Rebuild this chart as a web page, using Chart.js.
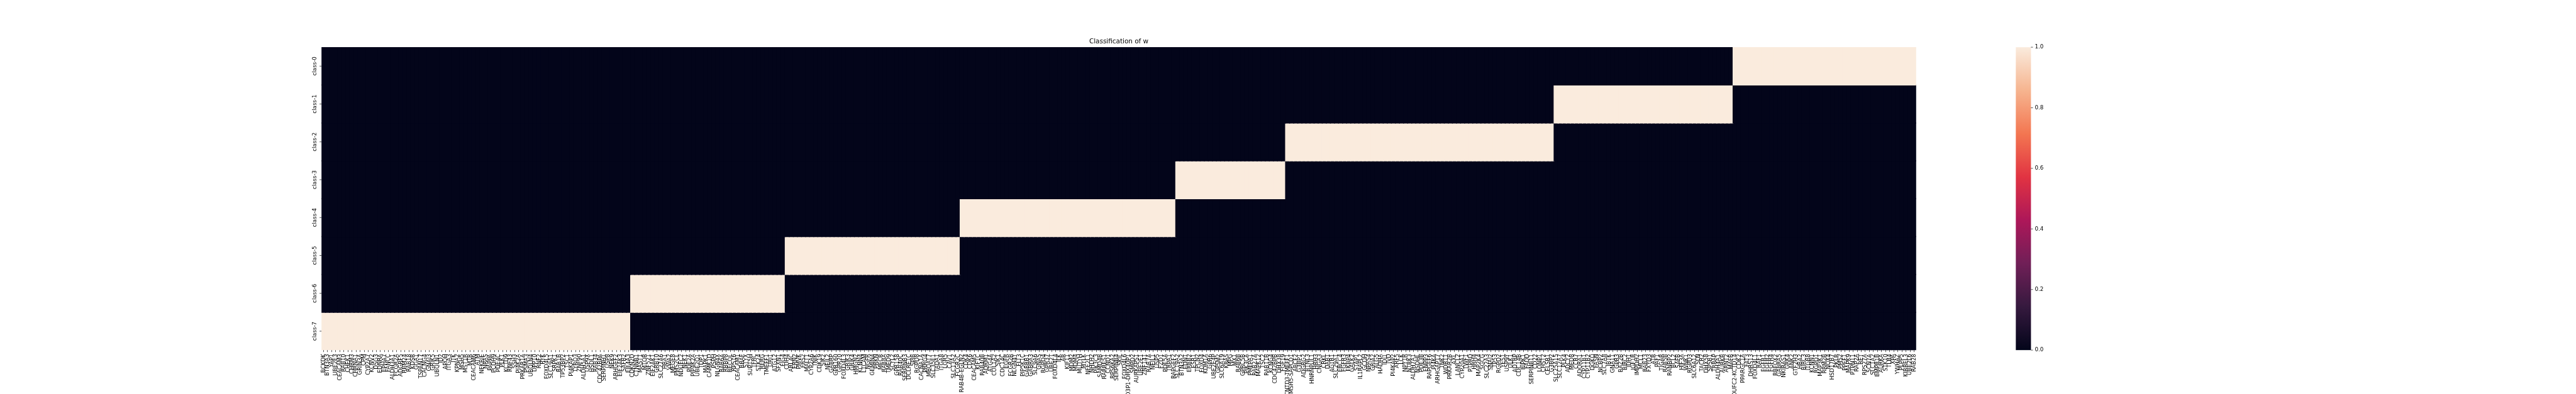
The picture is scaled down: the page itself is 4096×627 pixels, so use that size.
<!DOCTYPE html>
<html>
<head>
<meta charset="utf-8">
<title>Classification of w</title>
<script src="https://cdn.jsdelivr.net/npm/chart.js@4.4.0/dist/chart.umd.min.js"></script>
<style>
    body { margin: 0; background: #fff; }
    #wrap { width: 4096px; height: 627px; }
</style>
</head>
<body>
<div id="wrap"><canvas id="heatmap" width="4096" height="627"></canvas></div>
<script>
// Row labels, top to bottom
const classNames = ['class-0', 'class-1', 'class-2', 'class-3', 'class-4', 'class-5', 'class-6', 'class-7'];

// Genes of each class, in the order they appear along the x axis
const class7Genes = ['BCKDK', 'BTN3A3', 'YAP1', 'UBE2E3', 'CEACAM3', 'RAB10', 'CHEK1', 'CHRM3', 'CHRNA1', 'GRIN3A',
    'CPM', 'CYP2A7', 'KCNV2', 'DSG3', 'EDNRA', 'EPHA7', 'FANCC', 'ALDH3A1', 'FCGR2A', 'ADGRF5',
    'RBM24', 'RAB18', 'KDSR', 'GGA1', 'TSPAN17', 'CACNG4', 'GNAI3', 'GRIK5', 'UBQLN1', 'ID2',
    'APOH', 'ITGA3', 'ITK', 'KPNA2', 'MSH5', 'MST1R', 'MTR', 'CEACAM6', 'ATM', 'NFKBIE',
    'NRAS', 'PAPPA', 'PCDH9', 'PDE4C', 'PLK1', 'KCTD9', 'RNF43', 'SSH3', 'PI4K2A', 'PRKAR1A',
    'PSMA3', 'UBQLN4', 'DPP10', 'RNF2', 'RYK', 'FOXD4L5', 'SLC19A1', 'SRPK1', 'RAB1B', 'TP53BP2',
    'TSC1', 'PI4KAP1', 'TYRO3', 'ZNF90', 'ALDH5A1', 'USP9X', 'HSDL1', 'RAB34', 'CDC42BPA', 'SERPINH1',
    'USP8', 'NEK9', 'ARHGEF2', 'EIF2AK3', 'SAFB2', 'EIF4A3'];
const class6Genes = ['CDKN2D', 'CTNNB1', 'MAST1', 'MTOR', 'ZNF521', 'EIF2AK1', 'GRB10', 'SLC27A6', 'HBA1', 'VWA2',
    'MFGE8', 'PMS2CL', 'NDUFC2', 'NEK1', 'PDE2A', 'PIP4K2A', 'UBE2Q1', 'TDP1', 'MAPK1', 'CAMK1D',
    'PSPH', 'NLGN4X', 'RAB6A', 'RBBP8', 'RECQL', 'RPS16', 'CEACAM1', 'BRAF', 'STYX', 'SUPT5H',
    'TFRC', 'STK24', 'RERG', 'TMEFF1', 'URI1', 'ATG12', 'SFXN1', 'FIG4'];
const class5Genes = ['CDH4', 'ARL4C', 'ERN2', 'PMVK', 'FRS2', 'MALT1', 'CYP2A6', 'TNIK', 'CDK19', 'SIK2',
    'NEIL2', 'GABRP', 'GPR160', 'GPR20', 'FOXD4L3', 'GRIK3', 'GRIK4', 'HMGN2', 'KCNN4', 'L1CAM',
    'NGFR', 'GEMIN4', 'PRKN', 'MECR', 'RAB8A', 'TMED9', 'SCYL2', 'GPR158', 'RAB40C', 'SERPINB3',
    'DCLRE1C', 'SPIB', 'RGPD8', 'CACNA1A', 'PRRG4', 'MBOAT7', 'SLC35E1', 'TADA1', 'ITGA8', 'LGR5',
    'CAV1', 'SLC13A2', 'FCGR2C'];
const class4Genes = ['RAB4B-EGLN2', 'CDK4', 'CDK6', 'CEACAM5', 'KIF1C', 'RAB40B', 'ADRM1', 'ATG4A', 'COL1A2', 'SIK1',
    'CDC14C', 'EGFR', 'FCGR2B', 'NLGN4Y', 'FLT3', 'PIP5K1C', 'GABRB1', 'GABRA3', 'SLC9A6', 'GNAS',
    'RGPD4', 'GPR37', 'UBE2T', 'FOXD4L4', 'ILK', 'AR', 'KIF11', 'MDM2', 'MDM4', 'MUTYH',
    'MYLK', 'NFE2L1', 'NHLH2', 'PIK3C3', 'SAMD4B', 'RARRES1', 'CCND1', 'RPS6KA2', 'SERPINB4', 'SKIL',
    'FOXD4L6', 'TBC1D3P1-DHX40P1', 'SMPD2', 'AURKAPS1', 'UBE2E1', 'ZNF141', 'RAB7A', 'NEIL1', 'USP5', 'FZD1',
    'PDE5A', 'TRPA1', 'RAPGEF2'];
const class3Genes = ['SLC19A2', 'BTN3A2', 'EDN1', 'ERBB2', 'ESR1', 'TPCN2', 'FOXD4', 'KDM1A', 'GPR6', 'UBE2E4P',
    'GPSM2', 'SLC6A19', 'KRAS', 'MPG', 'MX1', 'RAB6B', 'GPRC5B', 'PIK3CA', 'PMEPA1', 'RAB27A',
    'MAPK12', 'TSC2', 'RAB11B', 'KCNG4', 'CDC42BPB', 'DHX38', 'FGF19'];
const class2Genes = ['CNTD3-TMEFF1', 'MSH5-SAPCD1', 'ABCF2', 'G3BP1', 'ADGRG2', 'BTNL3', 'HNRNPUL1', 'HRH3', 'CNGA3', 'CRKL',
    'DAB1', 'AGTR1', 'SLC29A1', 'ERCC4', 'FGFR3', 'FKBP4', 'GALK2', 'STAP1', 'IL1RAPL2', 'GCDH',
    'NPAS4', 'GRIA2', 'ALG5', 'HADHA', 'IDI1', 'IVD', 'PI4KAP2', 'ARF5', 'LCK', 'NPY1R',
    'NTRK3', 'ALDH7A1', 'NSDHL', 'PDE3B', 'ENPP3', 'RAPGEF6', 'PI4KA', 'ARHGAP17', 'TNK2', 'WDR11',
    'PRKAR2B', 'AXL', 'LANCL2', 'CYP20A1', 'TWF1', 'PTPRD', 'HRH4', 'MAP2K4', 'SGCG', 'SLC22A3',
    'SNAI2', 'TP53', 'RGPD2', 'YES1', 'USP9Y', 'ULK1', 'ADTRP', 'CDC14B', 'RIPK1', 'FADD',
    'SERPINB11', 'CD22', 'LONP1', 'CHST2', 'CELSR1', 'G3BP2'];
const class1Genes = ['SLC25A15', 'SLC12A7', 'PLK4', 'ADCY2', 'MED8', 'CCR7', 'ADORA1', 'CYP11B1', 'CYP11B2', 'DGKQ',
    'FASN', 'NCBP2', 'SLC7A8', 'IBTK', 'GNA11', 'GPR3', 'BAZ2B', 'BIRC2', 'IDH1', 'IGF1R',
    'IMPDH2', 'MCL1', 'RAB23', 'FXYD3', 'ATR', 'PAF1', 'TIGAR', 'RAB5B', 'RANBP2', 'BCL2',
    'SAFB', 'HIF3A', 'WNK1', 'RGPD3', 'SLC6A12', 'SLN', 'TACR2', 'DHX58', 'SPSB1', 'TRRAP',
    'ALDH4A1', 'AURKB', 'ARNT2', 'MAFB'];
const class0Genes = ['NDUFC2-KCTD14', 'CDK2', 'PPARGC1A', 'FAT3', 'DHRS13', 'FOXD4L1', 'RAF1', 'FGFR1', 'FGFR2', 'FGFR4',
    'RBFOX2', 'GABRA5', 'NKIRAS1', 'GRK4', 'ANK2', 'GTF2H3', 'HBA2', 'BIRC3', 'ITGB8', 'KCNN1',
    'RGPD1', 'MAP3K1', 'RRM2B', 'NOX4', 'HSD17B7', 'PKLR', 'PMS2', 'PPEF1', 'MAPK9', 'PTPN11',
    'RAP2A', 'RET', 'RPS27A', 'SCN7A', 'SLC1A2', 'BMPR1B', 'AURKA', 'STK10', 'TLR4', 'XPA',
    'YWHAZ', 'PLPP5', 'KIRREL3', 'UBE2L6', 'RAB28'];

// Class order of the column groups, left to right
const columnGroupOrder = [7, 6, 5, 4, 3, 2, 1, 0];
const colorbarTicks = [0.0, 0.2, 0.4, 0.6, 0.8, 1.0];

// seaborn "rocket" colormap
const rocketStops = ['#03051a', '#35193e', '#701f57', '#ad1759', '#e13342', '#f37651', '#f6b48f', '#faebdd'];

const classGenes = [class0Genes, class1Genes, class2Genes, class3Genes, class4Genes, class5Genes, class6Genes, class7Genes];

// Build the column list and which class each column belongs to
let genes = [];
let columnClass = [];
columnGroupOrder.forEach(c => {
    classGenes[c].forEach(g => {
        genes.push(g);
        columnClass.push(c);
    });
});

// Cell values: 1 where the gene is in the row's class
const values = classNames.map((name, row) => columnClass.map(c => (c === row ? 1 : 0)));

function hexToRgb(h) {
    return [parseInt(h.slice(1, 3), 16), parseInt(h.slice(3, 5), 16), parseInt(h.slice(5, 7), 16)];
}

function rocket(v) {
    const n = rocketStops.length - 1;
    const t = Math.min(Math.max(v, 0), 1) * n;
    const i = Math.min(Math.floor(t), n - 1);
    const f = t - i;
    const a = hexToRgb(rocketStops[i]);
    const b = hexToRgb(rocketStops[i + 1]);
    const c = a.map((x, k) => Math.round(x + (b[k] - x) * f));
    return 'rgb(' + c.join(',') + ')';
}

const S = 0.626;                    // scale from the reference figure
const tickFont = 13.89 * S;         // 10pt at 100 dpi
const titleFont = 16.67 * S;        // 12pt at 100 dpi
const tickLen = 4.86 * S;
const tickPad = 4.86 * S;

// Draws the rotated y labels with their ticks and the colorbar
const heatmapExtras = {
    id: 'heatmapExtras',
    afterDraw(chart) {
        const ctx = chart.ctx;
        const area = chart.chartArea;
        const yScale = chart.scales.y;

        ctx.save();
        ctx.strokeStyle = '#000';
        ctx.fillStyle = '#000';
        ctx.lineWidth = 1.11 * S;
        ctx.font = tickFont + 'px "DejaVu Sans"';

        // y ticks and vertical labels
        classNames.forEach((name, i) => {
            const y = yScale.getPixelForValue(i + 0.5);
            ctx.beginPath();
            ctx.moveTo(area.left - tickLen, y);
            ctx.lineTo(area.left, y);
            ctx.stroke();

            ctx.save();
            ctx.translate(area.left - tickLen - tickPad - 0.236 * tickFont, y);
            ctx.rotate(-Math.PI / 2);
            ctx.textAlign = 'center';
            ctx.textBaseline = 'alphabetic';
            ctx.fillText(name, 0, 0);
            ctx.restore();
        });

        // colorbar
        const fullWidth = (area.right - area.left) / 0.8;
        const cbLeft = area.right + 0.05 * fullWidth;
        const cbWidth = (area.bottom - area.top) / 20;
        const grad = ctx.createLinearGradient(0, area.bottom, 0, area.top);
        rocketStops.forEach((c, i) => grad.addColorStop(i / (rocketStops.length - 1), c));
        ctx.fillStyle = grad;
        ctx.fillRect(cbLeft, area.top, cbWidth, area.bottom - area.top);

        ctx.fillStyle = '#000';
        ctx.textAlign = 'left';
        ctx.textBaseline = 'middle';
        colorbarTicks.forEach(v => {
            const y = area.bottom - v * (area.bottom - area.top);
            ctx.beginPath();
            ctx.moveTo(cbLeft + cbWidth, y);
            ctx.lineTo(cbLeft + cbWidth + tickLen, y);
            ctx.stroke();
            ctx.fillText(v.toFixed(1), cbLeft + cbWidth + tickLen + tickPad, y);
        });
        ctx.restore();
    }
};

const datasets = classNames.map((name, row) => ({
    label: name,
    data: genes.map(() => [row, row + 1]),
    backgroundColor: values[row].map(v => rocket(v)),
    borderWidth: 0,
    barPercentage: 1,
    categoryPercentage: 1,
    inflateAmount: 0.75,   // overlap neighbours so no seams show between cells
    grouped: false
}));

const ctx = document.getElementById('heatmap').getContext('2d');
let heatmapChart = new Chart(ctx, {
    type: 'bar',
    data: {
        labels: genes,
        datasets: datasets
    },
    plugins: [heatmapExtras],
    options: {
        responsive: false,
        animation: false,
        devicePixelRatio: 1,
        events: [],
        layout: {
            autoPadding: false,
            padding: { left: 816.6 * S, right: 4096 - 4867.1 * S, top: 0, bottom: 0 }
        },
        plugins: {
            legend: { display: false },
            tooltip: { enabled: false },
            title: {
                display: true,
                text: 'Classification of w',
                color: '#000',
                font: { family: 'DejaVu Sans', size: titleFont, weight: 'normal', lineHeight: 1.2 },
                padding: { top: 120 * S - 12.52 - 2.1, bottom: 2.1 }
            }
        },
        scales: {
            x: {
                offset: true,
                grid: {
                    display: true,
                    drawOnChartArea: false,
                    drawTicks: true,
                    offset: false,
                    tickLength: tickLen,
                    tickWidth: 1.11 * S,
                    tickColor: '#000'
                },
                border: { display: false },
                ticks: {
                    autoSkip: false,
                    minRotation: 90,
                    maxRotation: 90,
                    padding: tickPad,
                    color: '#000',
                    font: { family: 'DejaVu Sans', size: tickFont }
                },
                afterFit: scale => { scale.height = 627 - 890 * S; }
            },
            y: {
                type: 'linear',
                display: false,
                reverse: true,
                min: 0,
                max: classNames.length
            }
        }
    }
});
</script>
</body>
</html>
